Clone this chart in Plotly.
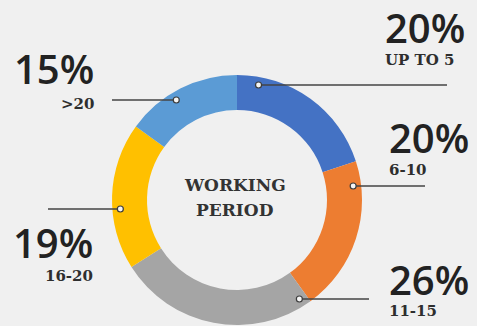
import math
import plotly.graph_objects as go

# Working period distribution (share of staff, %)
categories = ["UP TO 5", "6-10", "11-15", "16-20", ">20"]
shares = [20, 20, 26, 19, 15]
colors = ["#4472C4", "#ED7D31", "#A5A5A5", "#FFC000", "#5B9BD5"]
centre_lines = ["WORKING", "PERIOD"]

W, H = 477, 326
CX, CY, R_OUT = 237, 200, 125      # donut centre / outer radius in px
HOLE = 0.72
R_MARK = 117                       # radius where leader dots sit

# leader layout per slice: line height (px), side, far end of line (px)
leader_y = [85, 186, 299, 209, 100]
leader_side = ["right", "right", "right", "left", "left"]
leader_end = [447, 425, 369, 48, 112]
# label blocks: anchor x, big-number centre y, sub-label centre y
label_x = [383, 387, 387, 95, 96]
pct_y = [28, 137, 279, 242, 68]
sub_y = [60, 170, 311, 276, 104]
centre_y = [185, 210]

BG = "#f0f0f0"
PCT_FONT = dict(family="Open Sans", size=40, color="#222222", weight=600)
SUB_FONT = dict(family="DejaVu Serif", size=15, color="#2e2e2e", weight="bold")
CENTRE_FONT = dict(family="DejaVu Serif", size=17, color="#333333", weight="bold")


def px(x):
    return x / W


def py(y):
    return 1 - y / H


fig = go.Figure()
fig.add_trace(go.Pie(
    labels=categories,
    values=shares,
    hole=HOLE,
    sort=False,
    direction="clockwise",
    rotation=0,
    marker=dict(colors=colors, line=dict(width=0)),
    textinfo="none",
    hoverinfo="label+percent",
    showlegend=False,
    domain=dict(x=[px(CX - R_OUT), px(CX + R_OUT)],
                y=[py(CY + R_OUT), py(CY - R_OUT)]),
))

shapes = []
annotations = []
for i, cat in enumerate(categories):
    y = leader_y[i]
    dx = math.sqrt(max(R_MARK ** 2 - (y - CY) ** 2, 0))
    mx = CX + dx if leader_side[i] == "right" else CX - dx
    # leader line
    shapes.append(dict(type="line", xref="paper", yref="paper",
                       x0=px(mx), x1=px(leader_end[i]), y0=py(y), y1=py(y),
                       line=dict(color="#454545", width=1.5), layer="above"))
    # small ring marker
    r = 3
    shapes.append(dict(type="circle", xref="paper", yref="paper",
                       x0=px(mx - r), x1=px(mx + r), y0=py(y + r), y1=py(y - r),
                       fillcolor="#f4f4f4", line=dict(color="#3c3c3c", width=1.2),
                       layer="above"))
    anchor = "left" if leader_side[i] == "right" else "right"
    annotations.append(dict(text=f"{shares[i]}%", x=px(label_x[i]), y=py(pct_y[i]),
                            xref="paper", yref="paper", xanchor=anchor, yanchor="middle",
                            showarrow=False, font=PCT_FONT))
    annotations.append(dict(text=cat, x=px(label_x[i]), y=py(sub_y[i]),
                            xref="paper", yref="paper", xanchor=anchor, yanchor="middle",
                            showarrow=False, font=SUB_FONT))

for line, yc in zip(centre_lines, centre_y):
    annotations.append(dict(text=line, x=px(CX - 2), y=py(yc),
                            xref="paper", yref="paper", xanchor="center",
                            yanchor="middle", showarrow=False, font=CENTRE_FONT))

fig.update_layout(
    width=W, height=H,
    margin=dict(l=0, r=0, t=0, b=0),
    paper_bgcolor=BG, plot_bgcolor=BG,
    shapes=shapes,
    annotations=annotations,
)

fig.write_html("out.html")
